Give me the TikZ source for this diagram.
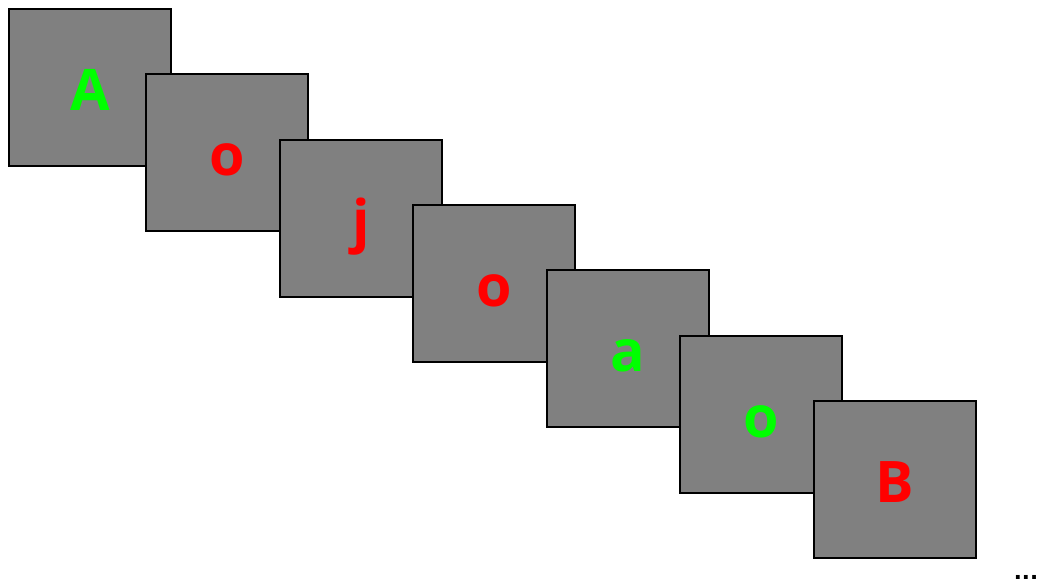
\documentclass[tikz,border=0pt]{standalone}
\usepackage{fontspec}
\setmainfont{DejaVu Sans}
\newfontfamily\cardfont{Open Sans}
\usepackage{tikz}
\usetikzlibrary{positioning}
\usepackage{xcolor}

\begin{document}
\begin{tikzpicture}[
    x=0.75pt, y=-0.75pt,
    card/.style={draw, line width=1.3pt, fill=gray, minimum width=121.5pt, minimum height=117.75pt,
                 inner sep=0pt, text height=42pt, text depth=8.2pt,
                 font=\cardfont\fontsize{43}{43}\selectfont\bfseries},
    hit/.style={card, text=green},
    miss/.style={card, text=red}
]
\useasboundingbox (0,0) rectangle (1040,586);

\node[hit]  (cardA)  at (90,87.5)   {A};
\node[miss] (cardO)  at (227,152.5) {o};
\node[miss] (cardJ)  at (361,218.5) {j};
\node[miss] (cardO2) at (494,283.5) {o};
\node[hit]  (cardA2) at (628,348.5) {a};
\node[hit]  (cardO3) at (761,414.5) {o};
\node[miss] (cardB)  at (895,479.5) {B};

\node[font=\fontsize{16}{16}\selectfont\bfseries] (more) at (1026,577) {...};
\end{tikzpicture}
\end{document}
